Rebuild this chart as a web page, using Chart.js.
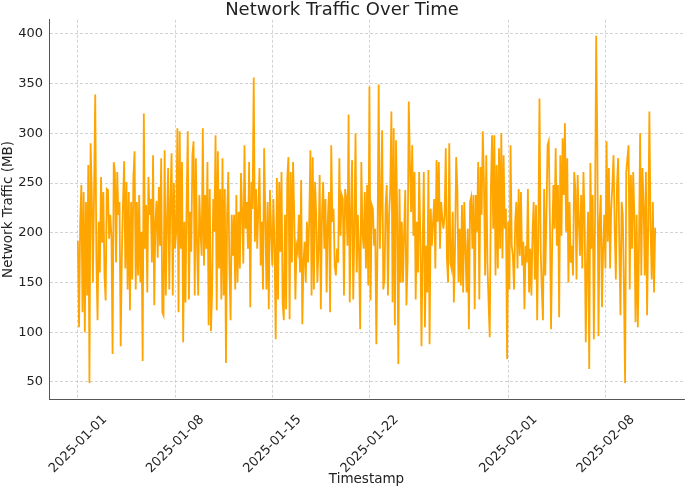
<!DOCTYPE html>
<html>
<head>
<meta charset="utf-8">
<script src="https://cdn.jsdelivr.net/npm/chart.js@4.4.1/dist/chart.umd.min.js"></script>
<style>
  html, body { margin: 0; padding: 0; background: #fff; }
  #wrap { width: 685px; height: 488px; }
</style>
</head>
<body>
<div id="wrap"><canvas id="trafficChart"></canvas></div>
<script>
// readings taken every 2 hours starting 2025-01-01 00:00
const startDay = '2025-01-01';
const stepHours = 2;

const trafficSeg1 = [192,105,211,248,120,241,100,231,137,268,49,290,241,150,241,339,174,112,211,160,
  256,190,241,157,132,244,243,194,218,197,78,271,261,170,261,218,231,86,177,231,
  272,164,251,143,241,122,231,153,256,282,143,231,157,238,150,201,71,320,184,228,
  140,256,218,234,170,278,127,211,232,175,246];
const trafficSeg2 = [187,275,120,117,283,137,211,265,143,234,280,137,250,184,201,305,120,302,184,271,
  90,211,130,231,302,133,221,181,278,292,137,275,187,137,238,201,177,305,167,238,
  184,271,107,244,101,140,234,201,298,122,282,164,244,133,275,137,244,69,218,261,
  164,112,218,177,218,143,238,150,221,164,260,218,169,288,204,231,184,271,125,251,
  224,356,191,244,184,224,265,167,211,143,285];
const trafficSeg3 = [218,143,231,123,243,204,167,234,184,93,255,133,251,181,261,130,112,218,123,255,
  276,113,261,170,271,218,133,187,181,218,160,253,108,170,191,150,211,170,214,283,
  137,276,143,251,218,150,184,258,123,218,251,184,234,140,211,241,120,288,211,224,
  167,157,184,170,275,197,238,234,137,244,234,187,319,130,218,273,133,204,300,160,
  218,181,103,271,201,184,241,164,248,147,347];
const trafficSeg4 = [132,228,224,187,204,88,191,349,184,231,303,143,153,228,248,137,218,244,322,
  130,305,107,293,218,68,244,150,211,150,201,243,127,170,332,271,221,288,197,261,
  133,211,160,261,197,86,184,261,105,187,140,263,88,224,187,211,234,164,273,211,
  271,184,231,214,204,218,285,174,150,290,170,164,221,130,184,276,244,150,204,147,
  228,140,231,184,140,204,103,231,236,184,238,123];
const trafficSeg5 = [238,201,271,133,266,218,302,251,157,278,170,130,95,244,298,204,298,157,
  268,164,285,184,300,174,278,204,224,73,211,143,288,187,177,143,211,231,164,
  244,177,241,167,191,123,187,170,244,140,184,137,201,231,153,228,112,201,
  335,184,143,112,244,157,218,288,292,211,103,191,248,204,285,187,248,115,278,197,
  295,238,310,201,275,150,231,170,187,157,261,244,153,258,211,177,238,164,261];
const trafficSeg6 = [214,90,167,221,63,270,184,238,93,211,398,287,96,211,238,125,184,218,
  164,292,191,265,164,224,248,278,204,153,248,275,187,117,231,218,143,
  49,261,275,288,143,258,184,261,218,110,218,105,187,300,157,265,228,
  157,261,117,204,322,204,153,231,140,205];

const xTickDays = [0, 7, 14, 21, 31, 38];
const yTickValues = [50, 100, 150, 200, 250, 300, 350, 400];

const traffic = [].concat(trafficSeg1, trafficSeg2, trafficSeg3, trafficSeg4, trafficSeg5, trafficSeg6);
const points = traffic.map((v, i) => ({ x: i * stepHours / 24, y: v }));

const startMs = Date.parse(startDay + 'T00:00:00Z');
function dayLabel(d) {
  return new Date(startMs + d * 86400000).toISOString().slice(0, 10);
}

const tickFont = { family: 'DejaVu Sans', size: 13 };
const labelFont = { family: 'DejaVu Sans', size: 13.5 };
const gridStyle = {
  color: 'rgba(185,185,185,0.8)',
  lineWidth: 0.8,
  drawTicks: false
};
const borderStyle = { display: true, color: '#555', width: 1, dash: [3, 2] };

const ctx = document.getElementById('trafficChart').getContext('2d');
const chart = new Chart(ctx, {
  type: 'line',
  data: {
    datasets: [{
      label: 'Network Traffic',
      data: points,
      borderColor: '#FFA500',
      borderWidth: 1.8,
      pointRadius: 0,
      tension: 0,
      fill: false
    }]
  },
  options: {
    responsive: true,
    maintainAspectRatio: false,
    animation: false,
    devicePixelRatio: 1,
    layout: { padding: { left: 0, right: 1, top: 0, bottom: 0 } },
    plugins: {
      legend: { display: false },
      tooltip: { enabled: false },
      title: {
        display: true,
        text: 'Network Traffic Over Time',
        color: '#222',
        font: { family: 'DejaVu Sans', size: 18, weight: 'normal', lineHeight: 1.1 },
        padding: { top: 0, bottom: 0 }
      }
    },
    scales: {
      x: {
        type: 'linear',
        min: -2.08,
        max: 43.66,
        afterFit: function (scale) { scale.height = 89; },
        afterBuildTicks: function (scale) {
          scale.ticks = xTickDays.map(v => ({ value: v }));
        },
        ticks: {
          color: '#222',
          font: tickFont,
          minRotation: 45,
          maxRotation: 45,
          padding: 13,
          labelOffset: 27,
          autoSkip: false,
          callback: function (value) { return dayLabel(value); }
        },
        grid: gridStyle,
        border: borderStyle,
        title: {
          display: true,
          text: 'Timestamp',
          color: '#222',
          font: labelFont,
          padding: { top: 0, bottom: 0 }
        }
      },
      y: {
        min: 32.85,
        max: 414.1,
        afterFit: function (scale) { scale.width = 49; },
        afterBuildTicks: function (scale) {
          scale.ticks = yTickValues.map(v => ({ value: v }));
        },
        ticks: {
          color: '#222',
          font: tickFont,
          padding: 6
        },
        grid: gridStyle,
        border: borderStyle,
        title: {
          display: true,
          text: 'Network Traffic (MB)',
          color: '#222',
          font: labelFont,
          padding: { top: 0, bottom: 0 }
        }
      }
    }
  }
});
</script>
</body>
</html>
